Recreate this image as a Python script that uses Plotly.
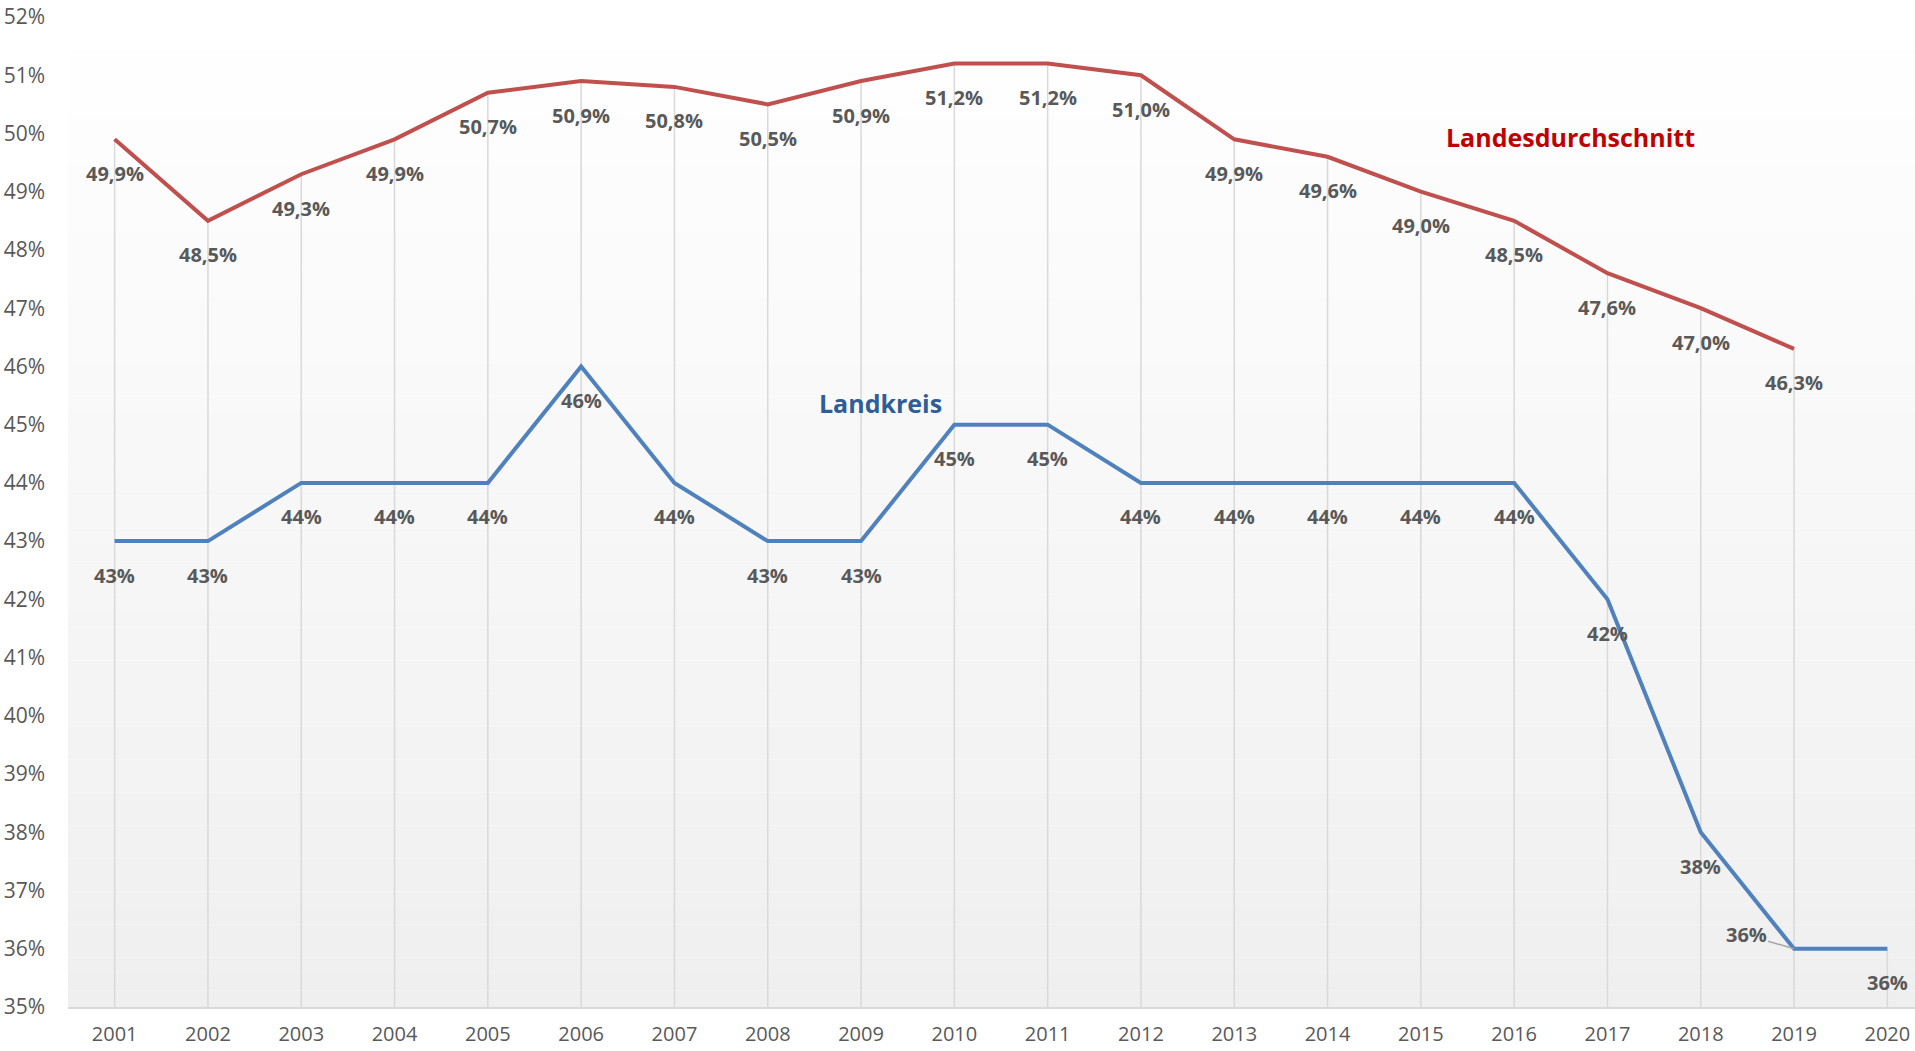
import plotly.graph_objects as go

years = list(range(2001, 2021))
landesdurchschnitt = [49.9, 48.5, 49.3, 49.9, 50.7, 50.9, 50.8, 50.5, 50.9, 51.2,
                      51.2, 51.0, 49.9, 49.6, 49.0, 48.5, 47.6, 47.0, 46.3]
landkreis = [43, 43, 44, 44, 44, 46, 44, 43, 43, 45,
             45, 44, 44, 44, 44, 44, 42, 38, 36, 36]
ytick_vals = list(range(35, 53))
ytick_text = [f"{v}%" for v in ytick_vals]

RED = "#C0504D"
BLUE = "#4F81BD"
LABEL = "#595959"
FONT = "Open Sans"

L, R, T, B = 68, 0, 17, 44
W, H = 1915, 1051
pw, ph = W - L - R, H - T - B

fig = go.Figure()

fig.add_trace(go.Scatter(x=years[:len(landesdurchschnitt)], y=landesdurchschnitt,
                         mode="lines", line=dict(color=RED, width=4),
                         name="Landesdurchschnitt", hoverinfo="skip"))
fig.add_trace(go.Scatter(x=years, y=landkreis, mode="lines",
                         line=dict(color=BLUE, width=4),
                         name="Landkreis", hoverinfo="skip"))

shapes = []
# gradient background bands
n = 60
top = (255, 255, 255)
bot = (239, 239, 239)
for i in range(n):
    t = (i + 0.5) / n
    c = tuple(round(top[k] + (bot[k] - top[k]) * t) for k in range(3))
    shapes.append(dict(type="rect", xref="paper", yref="paper",
                       x0=0, x1=1, y0=1 - (i + 1) / n, y1=1 - i / n,
                       fillcolor=f"rgb{c}", line=dict(width=0), layer="below"))
# drop lines
for i, yr in enumerate(years):
    vals = [landkreis[i]]
    if i < len(landesdurchschnitt):
        vals.append(landesdurchschnitt[i])
    shapes.append(dict(type="line", xref="x", yref="y", x0=yr, x1=yr,
                       y0=35, y1=max(vals), line=dict(color="#d9d9d9", width=1.5),
                       layer="below"))

lab_font = dict(family=FONT, size=20, color=LABEL, weight="bold")
annotations = []
for yr, v in zip(years, landesdurchschnitt):
    annotations.append(dict(x=yr, y=v, text=f"{v:.1f}%".replace(".", ","),
                            showarrow=False, yshift=-34, xanchor="center", yanchor="middle",
                            font=lab_font))
for yr, v in zip(years, landkreis):
    if yr == 2019:
        annotations.append(dict(x=yr, y=v, text=f"{v}%", showarrow=True,
                                ax=-48, ay=-14, arrowhead=0, arrowwidth=1.5,
                                arrowcolor="#a6a6a6", standoff=0,
                                font=lab_font))
    else:
        annotations.append(dict(x=yr, y=v, text=f"{v}%", showarrow=False, yshift=-34,
                                xanchor="center", yanchor="middle", font=lab_font))

annotations.append(dict(x=(1570 - L) / pw, y=1 - (137 - T) / ph, xref="x domain", yref="y domain",
                        text="Landesdurchschnitt", showarrow=False,
                        xanchor="center", yanchor="middle",
                        font=dict(family=FONT, size=25, color="#C00000", weight="bold")))
annotations.append(dict(x=(880 - L) / pw, y=1 - (403 - T) / ph, xref="x domain", yref="y domain",
                        text="Landkreis", showarrow=False,
                        xanchor="center", yanchor="middle",
                        font=dict(family=FONT, size=25, color="#2F5E97", weight="bold")))

fig.update_layout(
    width=W, height=H,
    margin=dict(l=L, r=R, t=T, b=B, pad=0, autoexpand=False),
    paper_bgcolor="white", plot_bgcolor="rgba(0,0,0,0)",
    showlegend=False,
    shapes=shapes, annotations=annotations,
    font=dict(family=FONT, color=LABEL),
    xaxis=dict(range=[2000.5, 2000.5 + pw / 93.3], tickvals=years,
               ticktext=[str(y) for y in years], showgrid=False, zeroline=False,
               showline=True, linecolor="#d9d9d9", linewidth=1.5, automargin=False,
               ticks="", tickfont=dict(size=20, color=LABEL), ticklabelstandoff=8),
    yaxis=dict(range=[35, 52], tickvals=ytick_vals, ticktext=ytick_text,
               showgrid=False, zeroline=False, showline=False, ticks="", automargin=False,
               tickfont=dict(size=21, color=LABEL), ticklabelstandoff=22),
)

fig.write_html("out.html", config={"displayModeBar": False},
               post_script="document.body.style.margin='0';document.body.style.overflow='hidden';")
